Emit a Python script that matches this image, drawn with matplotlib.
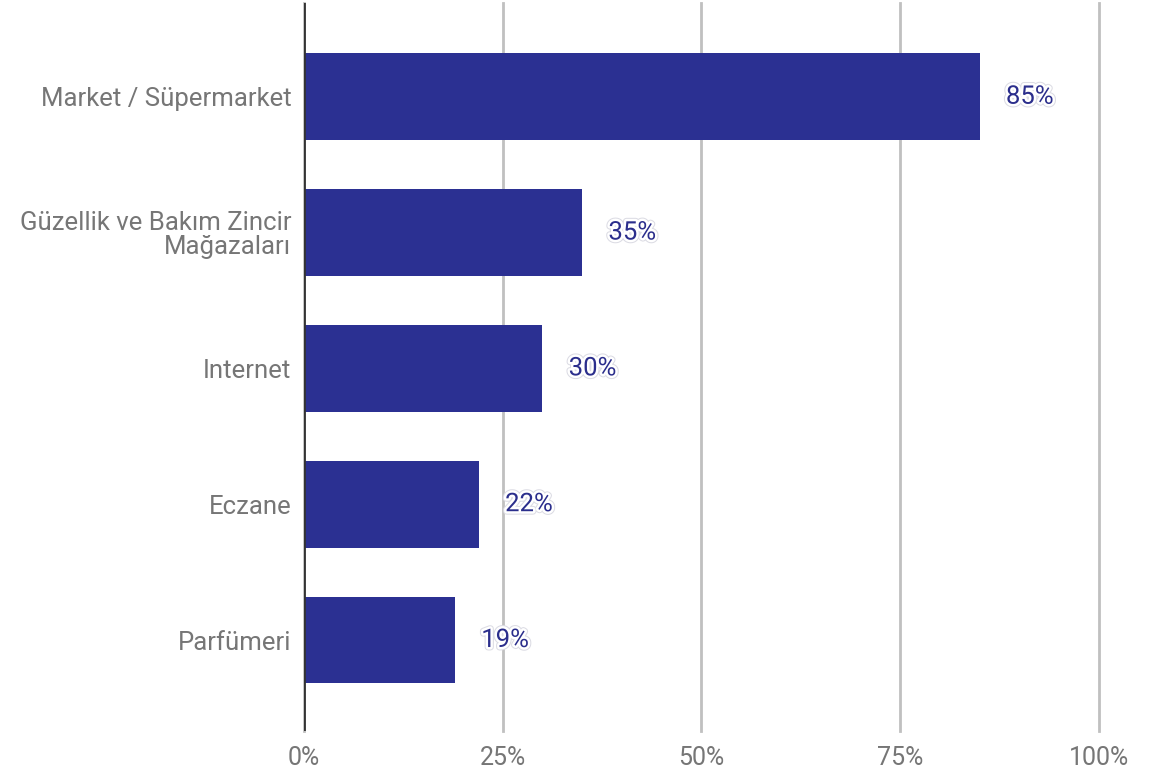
import matplotlib
matplotlib.use("Agg")
import matplotlib.pyplot as plt
import matplotlib.patheffects as pe

plt.rcParams['font.family'] = ['Roboto', 'DejaVu Sans']

kanallar = ['Market / Süpermarket', 'Güzellik ve Bakım Zincir\nMağazaları',
            'Internet', 'Eczane', 'Parfümeri']
oranlar = [85, 35, 30, 22, 19]
x_ticks = [0, 25, 50, 75, 100]
x_labels = ['0%', '25%', '50%', '75%', '100%']

bar_color = '#2b3092'
label_color = '#2b2e8c'
grey_text = '#767676'

fig = plt.figure(figsize=(11.58, 7.73), dpi=100)
ax = fig.add_axes([0.2625, 0.0543, 0.6865, 0.9418])

y = list(range(len(kanallar)))
ax.barh(y, oranlar, height=0.64, color=bar_color, zorder=3)

for yi, v in zip(y, oranlar):
    ax.text(v + 3.3, yi, f'{v}%', va='center', ha='left', fontsize=18.5,
            color=label_color, zorder=5,
            path_effects=[pe.Stroke(linewidth=5, foreground='#dcdce4'),
                          pe.Stroke(linewidth=3.5, foreground='white'),
                          pe.Normal()])

ax.set_xlim(0, 100)
ax.set_ylim(4.67, -0.69)
ax.set_xticks(x_ticks)
ax.set_xticklabels(x_labels)
ax.set_yticks(y)
ax.set_yticklabels(kanallar, linespacing=1.0)

ax.tick_params(axis='x', length=0, pad=11, labelsize=18, labelcolor=grey_text)
ax.tick_params(axis='y', length=0, pad=9, labelsize=18.5, labelcolor=grey_text)

ax.grid(axis='x', color='#c0c0c0', linewidth=2, zorder=1)
for gl in ax.get_xgridlines():
    gl.set_clip_on(False)
ax.axvline(0, color='#333333', linewidth=2, zorder=4)

for s in ax.spines.values():
    s.set_visible(False)

fig.savefig('out.png', dpi=100, facecolor='white')
